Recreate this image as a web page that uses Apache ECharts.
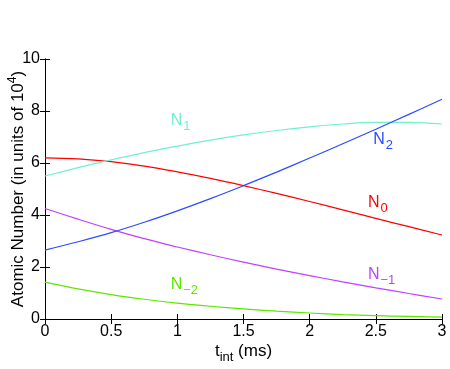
<!DOCTYPE html>
<html>
<head>
<meta charset="utf-8">
<script src="https://cdn.jsdelivr.net/npm/echarts@6/dist/echarts.min.js"></script>
<style>
  html, body { margin: 0; padding: 0; background: #fff; }
  #chart { width: 450px; height: 369px; }
</style>
</head>
<body>
<div id="chart"></div>
<script>
var tValues = [0, 0.25, 0.5, 0.75, 1.0, 1.25, 1.5, 1.75, 2.0, 2.25, 2.5, 2.75, 3.0];
var nMinus2 = [1.42, 1.16, 0.94, 0.76, 0.61, 0.49, 0.39, 0.3, 0.23, 0.17, 0.13, 0.1, 0.07];
var nMinus1 = [4.25, 3.84, 3.45, 3.09, 2.77, 2.47, 2.19, 1.92, 1.67, 1.43, 1.2, 0.98, 0.77];
var n0 = [6.2, 6.16, 6.05, 5.88, 5.66, 5.41, 5.13, 4.83, 4.52, 4.2, 3.87, 3.55, 3.23];
var n1 = [5.5, 5.82, 6.12, 6.4, 6.65, 6.88, 7.08, 7.25, 7.39, 7.5, 7.56, 7.56, 7.5];
var n2 = [2.65, 2.97, 3.32, 3.72, 4.16, 4.63, 5.13, 5.65, 6.19, 6.74, 7.3, 7.87, 8.45];
var xTicks = [0, 0.5, 1, 1.5, 2, 2.5, 3];
var yTicks = [0, 2, 4, 6, 8, 10];

var names = ['N-2', 'N-1', 'N0', 'N1', 'N2'];
var colors = ['#5fe600', '#bf40ff', '#ff0000', '#70f0d0', '#2b4bff'];
var labelMain = ['N', 'N', 'N', 'N', 'N'];
var labelSub = ['\u22122', '\u22121', '0', '1', '2'];
var labelAt = [[0.95, 1.8], [2.44, 2.2], [2.44, 4.95], [0.95, 8.1], [2.48, 7.4]];

var font = 'Liberation Sans, Arial, sans-serif';
var chart = echarts.init(document.getElementById('chart'), null, { renderer: 'canvas' });

function pairs(v) {
  return tValues.map(function(t, i) { return [t, v[i]]; });
}
var seriesData = [nMinus2, nMinus1, n0, n1, n2];

var axisLine = { show: true, lineStyle: { color: '#000', width: 1 } };
var tick = { show: true, inside: true, length: 5, lineStyle: { color: '#000' } };

chart.setOption({
  animation: false,
  grid: { left: 45, right: 8, top: 59, bottom: 50, show: false, containLabel: false, outerBoundsMode: 'none' },
  xAxis: [{
    type: 'value', min: 0, max: 3, interval: 0.5,
    axisLine: axisLine, axisTick: tick, splitLine: { show: false },
    axisLabel: { color: '#000', fontSize: 16, fontFamily: font, margin: 5,
      formatter: function(v) { return xTicks.indexOf(v) >= 0 ? String(v) : ''; } },
    name: 't{sub|int} (ms)', nameLocation: 'middle', nameGap: 20, nameMoveOverlap: false,
    nameTextStyle: { color: '#000', fontSize: 17, fontFamily: font,
      rich: { sub: { fontSize: 13, fontFamily: font, color: '#000', verticalAlign: 'bottom', padding: [12, 0, 0, 0] } } }
  }, {
    type: 'value', min: 0, max: 3, interval: 0.5, position: 'top',
    axisLine: axisLine, axisTick: tick, axisLabel: { show: false }, splitLine: { show: false }
  }],
  yAxis: [{
    type: 'value', min: 0, max: 10, interval: 2,
    axisLine: axisLine, axisTick: tick, splitLine: { show: false },
    axisLabel: { color: '#000', fontSize: 16, fontFamily: font, margin: 5,
      formatter: function(v) { return yTicks.indexOf(v) >= 0 ? String(v) : ''; } },
    name: 'Atomic Number (in units of 10{sup|4})', nameLocation: 'middle', nameGap: 16, nameMoveOverlap: false,
    nameTextStyle: { color: '#000', fontSize: 17, fontFamily: font,
      rich: { sup: { fontSize: 12, fontFamily: font, color: '#000', padding: [0, 0, 10, 0] } } }
  }, {
    type: 'value', min: 0, max: 10, interval: 2, position: 'right',
    axisLine: axisLine, axisTick: tick, axisLabel: { show: false }, splitLine: { show: false }
  }],
  series: seriesData.map(function(v, i) {
    return {
      name: names[i], type: 'line', data: pairs(v), smooth: 0.4, showSymbol: false,
      lineStyle: { color: colors[i], width: 1.2 }, z: 2
    };
  })
});

var graphics = labelAt.map(function(p, i) {
  var px = chart.convertToPixel({ xAxisIndex: 0, yAxisIndex: 0 }, p);
  return {
    type: 'text', x: px[0], y: px[1],
    style: {
      text: '{m|' + labelMain[i] + '}{s|' + labelSub[i] + '}',
      fill: colors[i],
      rich: {
        m: { fontSize: 16, fontFamily: font, fill: colors[i] },
        s: { fontSize: 13, fontFamily: font, fill: colors[i], padding: [12, 0, 0, 1] }
      }
    }
  };
});
chart.setOption({ graphic: graphics });
</script>
</body>
</html>
